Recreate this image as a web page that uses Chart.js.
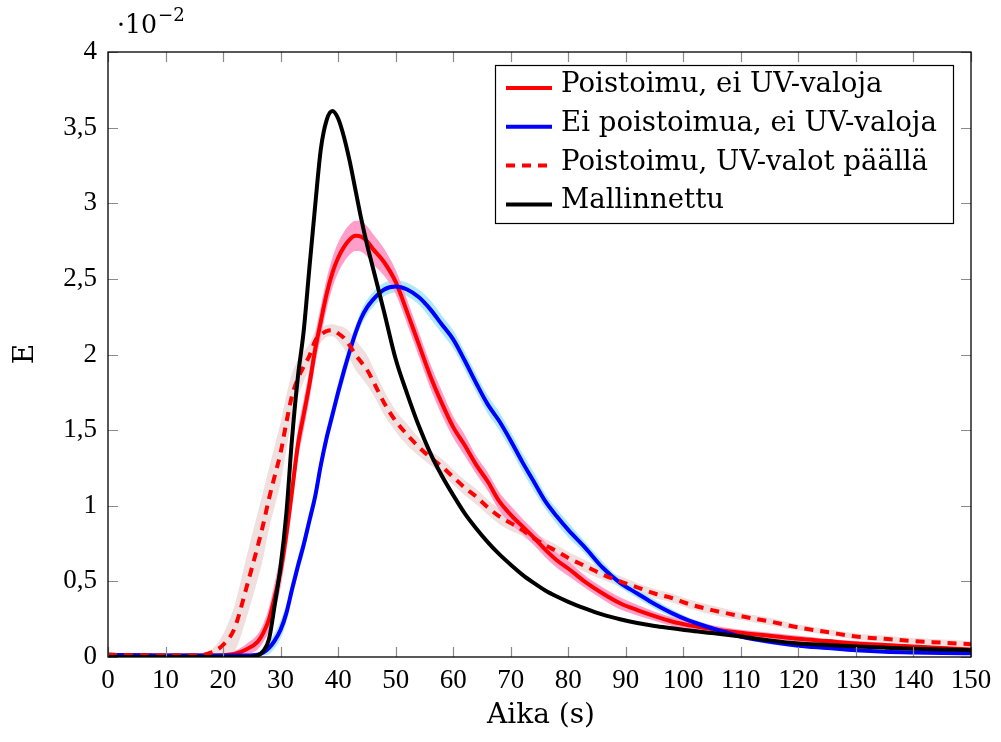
<!DOCTYPE html>
<html>
<head>
<meta charset="utf-8">
<script src="https://cdn.jsdelivr.net/npm/chart.js"></script>
<style>
html,body{margin:0;padding:0;background:#fff;}
#wrap{width:1001px;height:742px;}
</style>
</head>
<body>
<div id="wrap"><canvas id="chart" width="1001" height="742"></canvas></div>
<script>

/* data (E in units of 10^-2) */

const times = [0,5,10,15,18,20,22,24,26,
27,28,29,30,31,32,33,34,35,36,37,38,39,40,41,42,43,44,45,46,
48,50,52,54,56,58,60,62,64,66,68,70,72,74,76,78,80,
83,86,89,92,95,98,101,
105,110,115,120,125,130,135,140,145,150];

const poistoimu = [0.015,0.012,0.01,0.01,0.01,0.012,0.02,0.05,0.10,
0.16,0.25,0.40,0.57,0.81,1.10,1.40,1.60,1.80,2.03,2.22,2.40,2.54,2.64,2.71,2.76,2.785,2.78,2.75,2.70,
2.61,2.48,2.28,2.07,1.86,1.68,1.52,1.40,1.27,1.16,1.03,0.94,0.865,0.79,0.71,0.64,0.585,
0.495,0.42,0.355,0.31,0.27,0.235,0.21,
0.185,0.16,0.14,0.12,0.105,0.09,0.08,0.07,0.06,0.05];

const poistoimuErr = [0.005,0.005,0.005,0.005,0.005,0.01,0.02,0.035,0.05,
0.06,0.08,0.1,0.11,0.11,0.11,0.1,0.1,0.1,0.1,0.1,0.1,0.1,0.1,0.1,0.1,0.1,0.1,0.1,0.1,
0.09,0.08,0.08,0.08,0.08,0.08,0.07,0.07,0.06,0.06,0.06,0.06,0.05,0.05,0.05,0.05,0.05,
0.04,0.04,0.04,0.035,0.03,0.03,0.03,
0.025,0.02,0.02,0.02,0.015,0.015,0.015,0.01,0.01,0.01];

const eiPoistoimua = [0.015,0.012,0.01,0.01,0.01,0.01,0.01,0.01,0.015,
0.03,0.06,0.11,0.18,0.29,0.45,0.60,0.74,0.90,1.06,1.27,1.45,1.60,1.75,1.89,2.02,2.14,2.24,2.31,2.36,
2.43,2.45,2.43,2.38,2.30,2.20,2.10,1.96,1.81,1.67,1.56,1.43,1.29,1.16,1.03,0.93,0.84,
0.72,0.59,0.49,0.42,0.35,0.29,0.24,
0.19,0.135,0.10,0.075,0.06,0.045,0.035,0.03,0.027,0.025];

const eiPoistoimuaErr = [0.005,0.005,0.005,0.005,0.005,0.005,0.005,0.005,0.01,
0.02,0.04,0.05,0.06,0.06,0.06,0.06,0.06,0.06,0.06,0.06,0.06,0.06,0.06,0.06,0.06,0.05,0.05,0.05,0.05,
0.045,0.04,0.045,0.05,0.06,0.06,0.06,0.06,0.06,0.06,0.06,0.06,0.06,0.06,0.05,0.05,0.05,
0.04,0.04,0.03,0.03,0.03,0.025,0.02,
0.02,0.015,0.015,0.01,0.01,0.01,0.01,0.01,0.01,0.01];

const uvValot = [0.015,0.012,0.01,0.01,0.03,0.08,0.19,0.45,0.73,
0.88,1.05,1.20,1.35,1.55,1.73,1.84,1.92,1.99,2.09,2.13,2.155,2.16,2.14,2.11,2.06,2.00,1.95,1.90,1.83,
1.68,1.56,1.47,1.39,1.32,1.26,1.19,1.12,1.06,0.99,0.93,0.885,0.84,0.785,0.74,0.70,0.655,
0.60,0.545,0.50,0.46,0.42,0.39,0.35,
0.31,0.27,0.235,0.195,0.165,0.135,0.12,0.105,0.095,0.085];

const uvValotErr = [0.005,0.005,0.005,0.005,0.02,0.07,0.15,0.2,0.22,
0.22,0.2,0.2,0.2,0.18,0.15,0.12,0.1,0.08,0.06,0.05,0.04,0.04,0.05,0.07,0.09,0.1,0.1,0.1,0.09,
0.08,0.07,0.07,0.06,0.05,0.05,0.05,0.05,0.05,0.05,0.05,0.05,0.04,0.04,0.04,0.04,0.04,
0.04,0.035,0.035,0.03,0.03,0.03,0.03,
0.03,0.025,0.025,0.02,0.02,0.02,0.02,0.02,0.02,0.02];

const mallinnettu = [0,0,0,0,0,0,0,0,0.01,
0.04,0.12,0.35,0.6,0.95,1.45,1.85,2.15,2.57,2.98,3.36,3.55,3.61,3.56,3.44,3.28,3.09,2.90,2.73,2.58,
2.28,1.97,1.74,1.53,1.35,1.20,1.07,0.95,0.85,0.76,0.68,0.61,0.545,0.49,0.44,0.40,0.365,
0.32,0.28,0.25,0.225,0.205,0.19,0.175,
0.158,0.135,0.11,0.09,0.08,0.07,0.062,0.055,0.05,0.045];

const xTicks = [0,10,20,30,40,50,60,70,80,90,100,110,120,130,140,150];
const yTicks = [0,0.5,1,1.5,2,2.5,3,3.5,4];

const labels = ["Poistoimu, ei UV-valoja", "Ei poistoimua, ei UV-valoja", "Poistoimu, UV-valot päällä", "Mallinnettu"];

const serif = "'Liberation Serif', 'DejaVu Serif', serif";
const wideSerif = "'DejaVu Serif', serif";

/* helpers */

function points(values){
return times.map((t, i) => ({x: t, y: values[i]}));
}

function band(values, err, sign){
return times.map((t, i) => ({x: t, y: Math.max(0, values[i] + sign * err[i])}));
}

function lineSet(label, values, color, dash){
return {
label: label,
data: points(values),
borderColor: color,
borderWidth: 4,
borderDash: dash || [],
pointRadius: 0,
fill: false,
cubicInterpolationMode: "monotone",
order: 1
};
}

function bandSet(values, err, sign, color){
return {
label: "",
data: band(values, err, sign),
borderWidth: 0,
borderColor: "rgba(0,0,0,0)",
backgroundColor: color,
pointRadius: 0,
fill: sign > 0 ? "+1" : false,
cubicInterpolationMode: "monotone",
order: 10
};
}

/* font size so a text gets a given width */
function fitFont(ctx, text, width, family){
ctx.font = "20px " + family;
return 20 * width / ctx.measureText(text).width;
}

/* datasets */

const red = lineSet(labels[0], poistoimu, "#ff0000");
const blue = lineSet(labels[1], eiPoistoimua, "#0000ff");
const dashed = lineSet(labels[2], uvValot, "#ff0000", [9, 7]);
const black = lineSet(labels[3], mallinnettu, "#000000");
red.order = 4; blue.order = 3; dashed.order = 2; black.order = 1;

const datasets = [
bandSet(poistoimu, poistoimuErr, 1, "#ff9ec9"),
bandSet(poistoimu, poistoimuErr, -1, "#ff9ec9"),
bandSet(eiPoistoimua, eiPoistoimuaErr, 1, "#aee9fb"),
bandSet(eiPoistoimua, eiPoistoimuaErr, -1, "#aee9fb"),
bandSet(uvValot, uvValotErr, 1, "#efdfdf"),
bandSet(uvValot, uvValotErr, -1, "#efdfdf"),
red, blue, dashed, black
];

/* frame, inward ticks, legend, titles */

const decorations = {
id: "decorations",
afterDatasetsDraw(chart){
const ctx = chart.ctx;
const a = chart.chartArea;
const xs = chart.scales.x;
const ys = chart.scales.y;
ctx.save();
ctx.strokeStyle = "#8a8a8a";
ctx.lineWidth = 1.2;
ctx.beginPath();
xTicks.forEach(v => {
const px = Math.round(xs.getPixelForValue(v)) + 0.5;
ctx.moveTo(px, a.bottom); ctx.lineTo(px, a.bottom - 10);
ctx.moveTo(px, a.top); ctx.lineTo(px, a.top + 10);
});
yTicks.forEach(v => {
const py = Math.round(ys.getPixelForValue(v)) + 0.5;
ctx.moveTo(a.left, py); ctx.lineTo(a.left + 10, py);
ctx.moveTo(a.right, py); ctx.lineTo(a.right - 10, py);
});
ctx.stroke();
ctx.strokeStyle = "#000";
ctx.lineWidth = 1.3;
ctx.strokeRect(a.left, a.top, a.right - a.left, a.bottom - a.top);
ctx.restore();
},
afterDraw(chart){
const ctx = chart.ctx;
const sets = [red, blue, dashed, black];
ctx.save();

/* legend */
const lx = 495, ly = 65, lw = 458, lh = 158;
ctx.fillStyle = "#fff";
ctx.fillRect(lx, ly, lw, lh);
ctx.strokeStyle = "#000";
ctx.lineWidth = 1.2;
ctx.strokeRect(lx + 0.5, ly + 0.5, lw, lh);
const legendSize = fitFont(ctx, labels[1], 376, wideSerif);
ctx.font = legendSize.toFixed(1) + "px " + wideSerif;
ctx.textBaseline = "alphabetic";
ctx.textAlign = "left";
sets.forEach((ds, i) => {
const base = 92 + i * 38.8;
ctx.strokeStyle = ds.borderColor;
ctx.lineWidth = 4;
ctx.setLineDash(ds.borderDash);
ctx.beginPath();
ctx.moveTo(506, base - 4);
ctx.lineTo(552, base - 4);
ctx.stroke();
ctx.setLineDash([]);
ctx.fillStyle = "#000";
ctx.fillText(ds.label, 561, base);
});

/* axis titles */
ctx.fillStyle = "#000";
const titleSize = fitFont(ctx, "Aika (s)", 108, wideSerif);
ctx.font = titleSize.toFixed(1) + "px " + wideSerif;
ctx.textAlign = "center";
ctx.textBaseline = "middle";
ctx.fillText("Aika (s)", 541, 716);
ctx.save();
ctx.translate(26, 354);
ctx.rotate(-Math.PI / 2);
ctx.fillText("E", 0, 0);
ctx.restore();

/* exponent */
ctx.textAlign = "left";
ctx.textBaseline = "alphabetic";
ctx.font = (titleSize * 0.9).toFixed(1) + "px " + wideSerif;
ctx.fillText("·10", 117, 33);
const w = ctx.measureText("·10").width;
ctx.font = (titleSize * 0.65).toFixed(1) + "px " + wideSerif;
ctx.fillText("−2", 117 + w + 1, 21);
ctx.restore();
}
};

/* chart */

new Chart(document.getElementById("chart"), {
type: "line",
data: {datasets: datasets},
options: {
responsive: false,
animation: false,
devicePixelRatio: 1,
layout: {padding: {left: 0, right: 30, top: 52, bottom: 0}},
plugins: {legend: {display: false}, tooltip: {enabled: false}},
scales: {
x: {
type: "linear",
min: 0, max: 150,
afterFit: s => { s.height = 85; },
afterBuildTicks: s => { s.ticks = xTicks.map(v => ({value: v})); },
grid: {display: false, drawTicks: false},
border: {display: false},
ticks: {color: "#000", font: {family: serif, size: 27}, padding: 8, maxRotation: 0, autoSkip: false}
},
y: {
min: 0, max: 4,
afterFit: s => { s.width = 108; },
afterBuildTicks: s => { s.ticks = yTicks.map(v => ({value: v})); },
grid: {display: false, drawTicks: false},
border: {display: false},
ticks: {color: "#000", font: {family: serif, size: 27}, padding: 11,
callback: v => String(v).replace(".", ",")}
}
}
},
plugins: [decorations]
});

</script>
</body>
</html>
